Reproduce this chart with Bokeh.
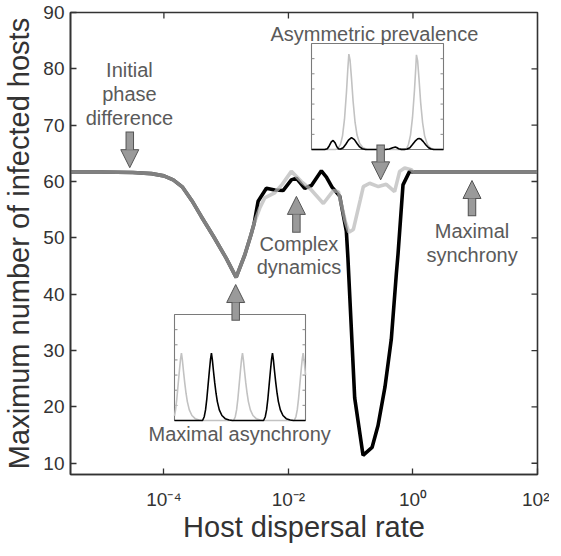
import numpy as np
from bokeh.plotting import figure
from bokeh.models import Range1d, LinearScale, FixedTicker, Arrow, NormalHead
from bokeh.core.properties import value
from bokeh.embed import file_html
from bokeh.resources import INLINE

# ---------------- data ----------------
# main curves: log10(host dispersal rate) and maximum number of infected hosts
black_logx = [-5.5, -5.0, -4.5, -4.2, -4.0, -3.85, -3.7, -3.55, -3.4, -3.2, -3.0, -2.84,
              -2.7, -2.6, -2.55, -2.487, -2.354, -2.221, -2.086, -1.953, -1.873, -1.739,
              -1.63, -1.471, -1.39, -1.30, -1.177, -1.12, -1.07, -1.045, -0.936, -0.802,
              -0.657, -0.561, -0.45, -0.348, -0.267, -0.24, -0.16, -0.054, 0.0, 1.0, 2.0]
black_y = [61.7, 61.7, 61.6, 61.4, 61.0, 60.3, 59.0, 56.6, 53.8, 50.2, 46.4, 43.0,
           47.0, 50.6, 52.6, 56.5, 58.8, 58.5, 58.4, 60.3, 60.6, 58.8,
           59.3, 61.9, 60.8, 59.0, 57.4, 54.1, 51.2, 46.5, 21.6, 11.4,
           12.8, 16.7, 23.5, 32.0, 43.6, 47.1, 59.4, 61.8, 61.7, 61.7, 61.7]
gray_logx = [-5.5, -5.0, -4.5, -4.2, -4.0, -3.85, -3.7, -3.55, -3.4, -3.2, -3.0, -2.84,
             -2.7, -2.6, -2.55, -2.46, -2.381, -2.221, -2.1, -1.953, -1.792, -1.632,
             -1.439, -1.279, -1.198, -1.086, -1.03, -0.957, -0.845, -0.797, -0.696,
             -0.556, -0.428, -0.295, -0.214, -0.134, -0.027, 0.0, 1.0, 2.0]
gray_y = [61.7, 61.7, 61.6, 61.4, 61.0, 60.3, 59.0, 56.6, 53.8, 50.2, 46.4, 43.0,
          47.0, 50.6, 52.6, 55.3, 57.1, 58.0, 59.5, 61.8, 60.0, 58.5,
          56.1, 58.4, 58.2, 52.9, 51.0, 51.5, 56.8, 59.1, 59.7,
          59.1, 59.5, 58.2, 61.8, 62.4, 62.1, 61.7, 61.7, 61.7]

x_ticks = [1e-4, 1e-2, 1.0, 1e2]
x_tick_labels = ["10\u207b\u2074", "10\u207b\u00b2", "10\u2070", "10\u00b2"]
y_ticks = [10, 20, 30, 40, 50, 60, 70, 80, 90]

# inset 1: "Asymmetric prevalence" time series
ins1_gray_t = [0, 18, 20, 22, 23.5, 25, 26.5, 27.5, 28.3, 29.2, 30.3, 31.5, 33, 34.5, 36.5, 39, 42,
               70, 72, 73.5, 75, 76.5, 78, 79, 79.5, 80.4, 81.5, 82.7, 84.2, 85.7, 87.7, 90, 93, 100]
ins1_gray_v = [0, 0, 0.05, 0.35, 0.9, 2.0, 3.8, 5.3, 6.3, 5.9, 4.7, 3.2, 1.8, 0.95, 0.4, 0.12, 0.02,
               0, 0.05, 0.35, 0.95, 2.1, 3.9, 5.4, 6.25, 5.85, 4.6, 3.1, 1.75, 0.9, 0.35, 0.1, 0.02, 0]
ins1_black_t = [0, 10, 12, 13.5, 15, 16.4, 17.8, 19.2, 20.5, 22, 24, 26, 28, 30.3, 32.5, 34.5,
                36.5, 38.5, 41, 56, 59, 61.5, 63.5, 64.5, 66, 68, 70.5, 72.5, 74.5, 76.5, 78.5,
                80.5, 81.6, 82.7, 84.7, 86.7, 88.7, 90.7, 92.5, 100]
ins1_black_v = [0, 0, 0.05, 0.25, 0.5, 0.6, 0.45, 0.18, 0.05, 0.03, 0.12, 0.35, 0.62, 0.78, 0.65,
                0.4, 0.17, 0.05, 0, 0, 0.03, 0.12, 0.16, 0.13, 0.05, 0.01, 0.01, 0.03, 0.12, 0.33,
                0.55, 0.71, 0.73, 0.7, 0.52, 0.3, 0.12, 0.03, 0, 0]

# inset 2: "Maximal asynchrony" time series
ins2_gray_t = [0, 0.8, 1.8, 2.8, 3.8, 4.6, 5.3, 6.0, 6.8, 7.8, 8.8, 9.8, 11.3, 13.3, 15.8, 18.8, 21.3,
               45.1, 46.4, 47.4, 48.4, 49.4, 50.4, 51.2, 51.9, 52.6, 53.4, 54.4, 55.4, 56.4, 57.9,
               59.9, 62.4, 65.4, 67.9, 91.4, 92.7, 93.7, 94.7, 95.7, 96.7, 97.5, 98.2, 98.9, 99.7, 100]
ins2_gray_v = [0.3, 0.7, 1.45, 2.4, 3.35, 4.05, 4.45, 4.0, 3.3, 2.5, 1.8, 1.25, 0.7, 0.33, 0.12, 0.03, 0,
               0, 0.25, 0.7, 1.45, 2.4, 3.35, 4.05, 4.45, 4.0, 3.3, 2.5, 1.8, 1.25, 0.7,
               0.33, 0.12, 0.03, 0, 0, 0.25, 0.7, 1.45, 2.4, 3.35, 4.05, 4.45, 4.0, 3.3, 3.0]
ins2_black_t = [0, 21.4, 22.7, 23.7, 24.7, 25.7, 26.7, 27.5, 28.2, 28.9, 29.7, 30.7, 31.7, 32.7, 34.2,
                36.2, 38.7, 41.7, 44.2, 68.0, 69.3, 70.3, 71.3, 72.3, 73.3, 74.1, 74.8, 75.5, 76.3,
                77.3, 78.3, 79.3, 80.8, 82.8, 85.3, 88.3, 90.8, 100]
ins2_black_v = [0, 0, 0.25, 0.7, 1.45, 2.4, 3.35, 4.05, 4.45, 4.0, 3.3, 2.5, 1.8, 1.25, 0.7,
                0.33, 0.12, 0.03, 0, 0, 0.25, 0.7, 1.45, 2.4, 3.35, 4.05, 4.45, 4.0, 3.3,
                2.5, 1.8, 1.25, 0.7, 0.33, 0.12, 0.03, 0, 0]
ins_ticks = [1, 2, 3, 4, 5, 6]

# annotations: label lines, log10 x, y
labels_text = ["Initial", "phase", "difference", "Asymmetric prevalence", "Complex", "dynamics",
               "Maximal", "synchrony", "Maximal asynchrony"]
labels_logx = [-4.553, -4.553, -4.553, -0.62, -1.832, -1.832, 0.949, 0.949, -2.783]
labels_y = [79.81, 75.50, 71.19, 86.22, 48.96, 44.75, 51.21, 46.94, 15.18]
# arrows: log10 x, tail y, tip y
arrow_logx = [-4.548, -0.519, -1.872, 0.948, -2.847]
arrow_tail = [68.9, 66.57, 50.93, 53.85, 35.29]
arrow_tip = [62.46, 60.3, 57.36, 60.18, 41.72]

# ---------------- layout ----------------
FW, FH = 467, 462               # frame size
BL, BR, BT, BB = 66, 12, 12, 66  # borders
XMIN, XMAX = 10 ** -5.5, 100.0
YMIN, YMAX = 8, 90
FONT = "Liberation Sans"
TXT = "#333333"
AX = "#333333"

p = figure(frame_width=FW, frame_height=FH, x_axis_type="log", x_range=Range1d(XMIN, XMAX),
           y_range=Range1d(YMIN, YMAX), output_backend="svg", toolbar_location=None,
           min_border_left=BL, min_border_right=BR, min_border_top=BT, min_border_bottom=BB)
p.outline_line_color = AX
p.outline_line_width = 1.6
p.xgrid.visible = False
p.ygrid.visible = False

xax = p.xaxis[0]
yax = p.yaxis[0]
for ax in (xax, yax):
    ax.axis_line_color = AX
    ax.axis_line_width = 1.6
    ax.major_tick_line_color = AX
    ax.major_tick_line_width = 1.3
    ax.major_tick_in = 6
    ax.major_tick_out = 0
    ax.minor_tick_line_color = None
    ax.major_label_text_font = FONT
    ax.major_label_text_color = TXT
    ax.major_label_text_font_size = "19px"
    ax.axis_label_text_font = FONT
    ax.axis_label_text_font_size = "29px"
    ax.axis_label_text_font_style = "normal"
    ax.axis_label_text_color = TXT
xax.ticker = FixedTicker(ticks=x_ticks)
xax.major_label_overrides = {t: l for t, l in zip(x_ticks, x_tick_labels)}
yax.ticker = FixedTicker(ticks=y_ticks)
xax.major_label_standoff = 14
yax.major_label_standoff = 6
xax.axis_label = "Host dispersal rate"
yax.axis_label = "Maximum number of infected hosts"
xax.axis_label_standoff = -2
yax.axis_label_standoff = 5

# inward ticks on the top and right edges of the box
p.ray(x=x_ticks[:-1], y=[YMAX] * (len(x_ticks) - 1), length=6, length_units="screen",
      angle=-np.pi / 2, line_color=AX, line_width=1.3)
p.ray(x=[XMAX] * (len(y_ticks) - 1), y=y_ticks[:-1], length=6, length_units="screen",
      angle=np.pi, line_color=AX, line_width=1.3)

# ---------------- main curves ----------------
p.line(10 ** np.array(black_logx), black_y, line_color="black", line_width=3.6)
p.line(10 ** np.array(gray_logx), gray_y, line_color="#b6b6b6", line_alpha=0.7, line_width=3.6)

# ---------------- insets (own linear scales inside the main frame) ----------------
# pixel boxes of the insets, relative to the frame's top-left corner (left, right, top, bottom)
ins_boxes = {"i1": (241, 373, 31, 137), "i2": (104, 235, 302, 408)}
T0, T1, V0, V1 = 0, 100, 0, 7
xr, yr, xs = {}, {}, {}
for name, (l, r, t, b) in ins_boxes.items():
    kx = (T1 - T0) / (r - l)
    ky = (V1 - V0) / (b - t)
    xr[name] = Range1d(T0 - l * kx, T1 + (FW - r) * kx)
    yr[name] = Range1d(V0 - (FH - b) * ky, V1 + t * ky)
    xs[name] = LinearScale()
p.extra_x_ranges = xr
p.extra_y_ranges = yr
p.extra_x_scales = xs

for name, gt, gv, bt, bv in (("i1", ins1_gray_t, ins1_gray_v, ins1_black_t, ins1_black_v),
                             ("i2", ins2_gray_t, ins2_gray_v, ins2_black_t, ins2_black_v)):
    kw = dict(x_range_name=name, y_range_name=name)
    p.quad(left=[T0], right=[T1], bottom=[V0], top=[V1], fill_color="white",
           line_color="#7a7a7a", line_width=1.1, **kw)
    p.ray(x=[T0] * len(ins_ticks), y=ins_ticks, length=3, length_units="screen", angle=0,
          line_color="#8a8a8a", line_width=1, **kw)
    p.ray(x=[T1] * len(ins_ticks), y=ins_ticks, length=3, length_units="screen", angle=np.pi,
          line_color="#8a8a8a", line_width=1, **kw)
    p.line(gt, gv, line_color="#c2c2c2", line_width=1.6, **kw)
    p.line(bt, bv, line_color="black", line_width=1.6, **kw)

# ---------------- annotations ----------------
p.text(x=10 ** np.array(labels_logx), y=labels_y, text=labels_text, text_align="center",
       text_baseline="middle", text_font=value(FONT), text_font_size="20px",
       text_color="#5a5a5a")

HEAD = 18
px_per_unit = FH / (YMAX - YMIN)
for lx, ty, hy in zip(arrow_logx, arrow_tail, arrow_tip):
    xv = float(10 ** lx)
    d = 1 if hy > ty else -1
    p.add_layout(Arrow(end=NormalHead(size=HEAD, fill_color="#9a9a9a", line_color="#555555",
                                      line_width=1),
                       x_start=xv, y_start=ty, x_end=xv, y_end=hy,
                       line_color="#555555", line_width=8.5))
    base = hy - d * HEAD / px_per_unit
    p.add_layout(Arrow(end=None, x_start=xv, y_start=ty + d * 1.0 / px_per_unit,
                       x_end=xv, y_end=base, line_color="#9a9a9a", line_width=6.5))

open("out.html", "w").write(file_html(p, INLINE))
